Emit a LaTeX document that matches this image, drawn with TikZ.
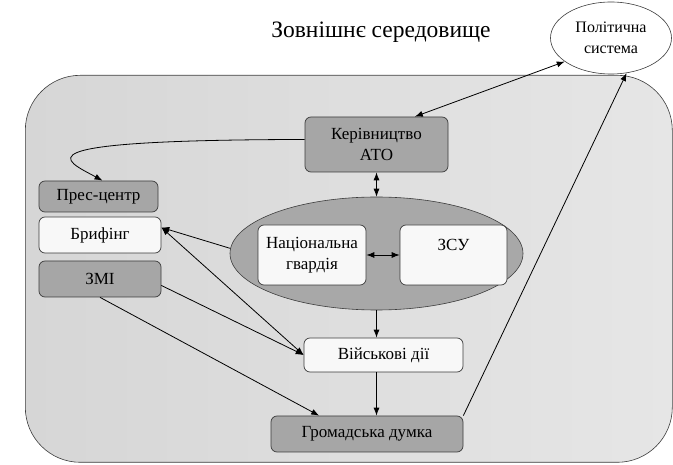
\documentclass[tikz,border=0pt]{standalone}
\usepackage{fontspec}
\setmainfont{Liberation Serif}
\newfontfamily\labelfont{Liberation Serif}
\usetikzlibrary{shapes.geometric,arrows.meta,calc}
\usepackage{xcolor}

\definecolor{boxgray}{RGB}{166,166,166}
\definecolor{ovalgray}{RGB}{168,168,168}
\definecolor{envleft}{RGB}{214,214,214}
\definecolor{envright}{RGB}{230,230,230}
\definecolor{edgegray}{RGB}{60,60,60}
\definecolor{boxwhite}{RGB}{248,248,248}

\begin{document}
\begin{tikzpicture}[x=1pt, y=-1pt,
  unit/.style={rectangle, rounded corners=6pt, draw=edgegray, line width=0.7pt,
    align=center, inner sep=2pt, font=\labelfont\fontsize{17}{21}\selectfont},
  darkunit/.style={unit, fill=boxgray},
  lightunit/.style={unit, fill=boxwhite},
  link/.style={draw, line width=0.8pt, -{Latex[length=8pt,width=6pt]}},
  bilink/.style={link, {Latex[length=8pt,width=6pt]}-{Latex[length=8pt,width=6pt]}},
]
  \useasboundingbox (0,0) rectangle (673,465);

  % Environment
  \node[rectangle, rounded corners=55pt, draw=edgegray, line width=0.6pt,
    left color=envleft, right color=envright, anchor=north west,
    minimum width=647pt, minimum height=387pt] (env) at (25,75) {};
  \node[font=\labelfont\fontsize{23.5}{28}\selectfont] (title) at (381,32) {Зовнішнє середовище};
  \node[ellipse, draw=edgegray, line width=0.6pt, fill=white, inner sep=0pt,
    minimum width=121pt, minimum height=72pt, align=center,
    font=\labelfont\fontsize{16}{21}\selectfont] (polit) at (611,38) {Політична\\система};

  % Units
  \node[darkunit, minimum width=143pt, minimum height=55pt] (kerivn) at (376.5,144.5) {Керівництво\\АТО};
  \node[darkunit, minimum width=119pt, minimum height=31pt] (pres) at (98.5,196.5) {Прес-центр};
  \node[lightunit, minimum width=122pt, minimum height=36pt] (bryf) at (100,235) {Брифінг};
  \node[darkunit, minimum width=122pt, minimum height=36pt] (zmi) at (100,279) {ЗМІ};
  \node[ellipse, draw=edgegray, line width=0.6pt, fill=ovalgray,
    minimum width=293pt, minimum height=113pt] (sily) at (376.5,253.5) {};
  \node[lightunit, minimum width=108pt, minimum height=60pt] (natsgv) at (312,255) {Національна\\гвардія};
  \node[lightunit, minimum width=107pt, minimum height=60pt] (zsu) at (453.5,255) {ЗСУ\\\mbox{}};
  \node[lightunit, minimum width=159pt, minimum height=34pt] (viisk) at (383.5,355) {Військові дії};
  \node[darkunit, minimum width=192pt, minimum height=36pt] (hromad) at (367,434) {Громадська думка};

  % Links
  \draw[bilink] (kerivn.36) -- (polit.207);
  \draw[link] (kerivn.176) .. controls (10,140) and (65,160) .. ($(pres.north)+(4,0)$);
  \draw[bilink] (kerivn.south) -- (sily.north);
  \draw[bilink] (natsgv.east) -- (zsu.west);
  \draw[link] (sily.south) -- (sily.south |- viisk.north);
  \draw[link] (sily.south |- viisk.south) -- (sily.south |- hromad.north);
  \draw[link] (sily.178) -- (bryf.7.5);
  \draw[bilink] (bryf.7.5) -- (viisk.west);
  \draw[link] (zmi.-6) -- (viisk.west);
  \draw[link] (zmi.south) -- (hromad.159);
  \draw[link] (hromad.north east) -- (polit.-66);
\end{tikzpicture}
\end{document}
